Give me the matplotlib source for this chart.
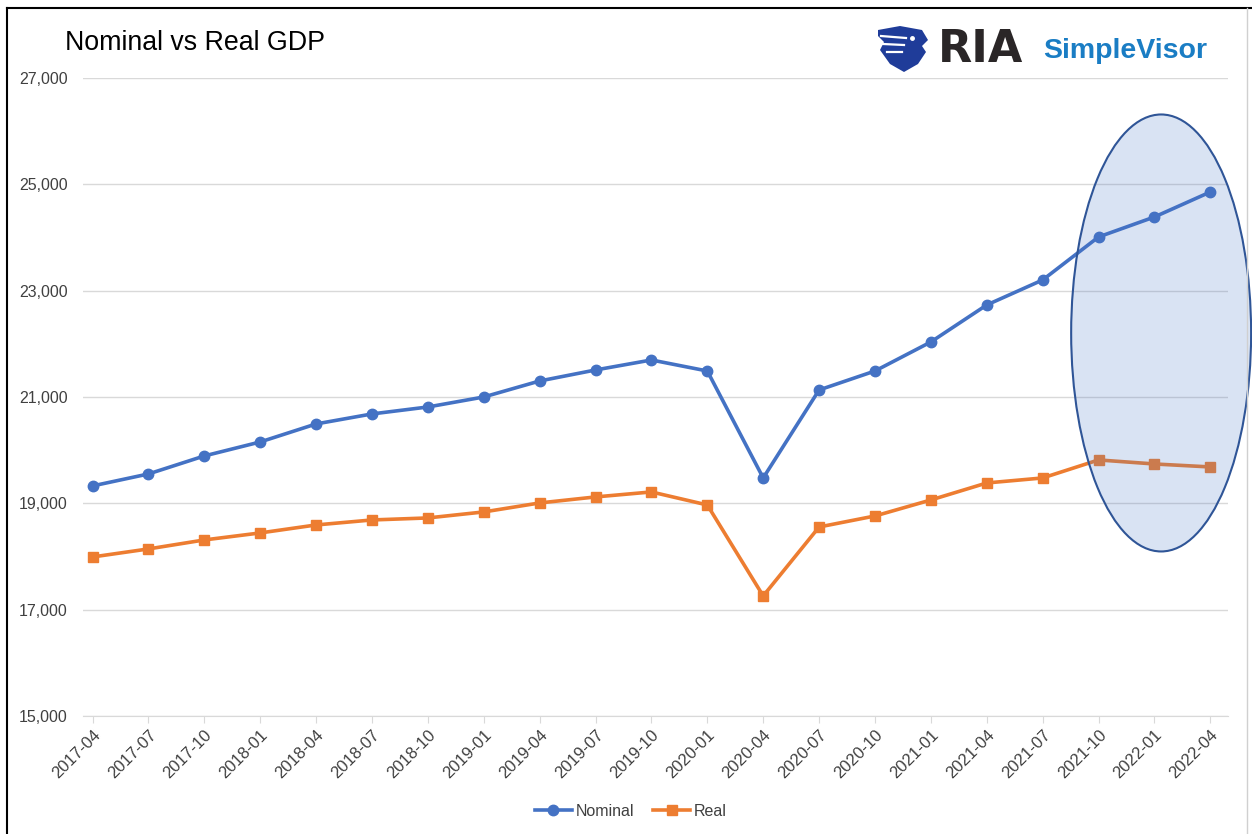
import matplotlib.pyplot as plt
from matplotlib.patches import Ellipse, Polygon
from matplotlib.lines import Line2D

quarters = ['2017-04', '2017-07', '2017-10', '2018-01', '2018-04', '2018-07',
            '2018-10', '2019-01', '2019-04', '2019-07', '2019-10', '2020-01',
            '2020-04', '2020-07', '2020-10', '2021-01', '2021-04', '2021-07',
            '2021-10', '2022-01', '2022-04']
nominal = [19327, 19552, 19891, 20154, 20493, 20681, 20812, 21000, 21301, 21508,
           21696, 21489, 19477, 21132, 21489, 22035, 22731, 23201, 24010, 24386,
           24856]
real = [17991, 18142, 18311, 18443, 18593, 18687, 18725, 18838, 19007, 19120,
        19214, 18969, 17258, 18555, 18762, 19063, 19383, 19477, 19816, 19740,
        19684]
yticks = [15000, 17000, 19000, 21000, 23000, 25000, 27000]

plt.rcParams['font.family'] = ['Liberation Sans', 'DejaVu Sans']

W, H = 1252, 834
fig = plt.figure(figsize=(W / 100, H / 100), dpi=100)
ax = fig.add_axes([0.0663, 0.1415, 0.9147, 0.765])

x = list(range(len(quarters)))
ax.plot(x, nominal, color='#4472C4', lw=2.6, marker='o', ms=7.5, label='Nominal', zorder=3)
ax.plot(x, real, color='#ED7D31', lw=2.6, marker='s', ms=7, label='Real', zorder=3)

ax.set_ylim(15000, 27000)
ax.set_xlim(-0.17, 20.32)
ax.set_yticks(yticks)
ax.set_yticklabels(['{:,}'.format(v) for v in yticks])
ax.set_xticks(x)
ax.set_xticklabels(quarters, rotation=45, ha='right', rotation_mode='anchor')
ax.grid(axis='y', color='#D9D9D9', lw=1)
ax.set_axisbelow(True)
for s in ['top', 'right', 'left']:
    ax.spines[s].set_visible(False)
ax.spines['bottom'].set_color('#D9D9D9')
ax.tick_params(axis='y', length=0, labelsize=11.5, labelcolor='#404040', pad=11)
ax.tick_params(axis='x', length=5, color='#D9D9D9', labelsize=12, labelcolor='#404040', pad=3)

# highlight ellipse
ell = Ellipse((19.12, 22204), 3.22, 8219, facecolor=(0.27, 0.45, 0.77, 0.2),
              edgecolor='#2F5597', lw=1.5, clip_on=False, zorder=4)
ax.add_patch(ell)

# title
fig.text(65 / W, 1 - 43 / H, 'Nominal vs Real GDP', fontsize=19.3, va='center', ha='left')

# logo: rough eagle shield
shield_px = [(878, 30), (900, 26), (922, 30), (928, 40), (922, 46), (926, 52),
             (918, 64), (904, 72), (890, 64), (880, 50), (884, 42), (878, 36)]
fig.patches.append(Polygon([(px, H - py) for px, py in shield_px], closed=True,
                           transform=None, facecolor='#1F3C99', edgecolor='none'))
for (x0, y0), (x1, y1) in [((881, 36), (906, 38)), ((883, 44), (904, 45)), ((887, 52), (902, 52))]:
    fig.add_artist(Line2D([x0 / W, x1 / W], [1 - y0 / H, 1 - y1 / H], color='white', lw=1.6))
fig.add_artist(Line2D([912 / W], [1 - 38 / H], marker='o', ms=2.5, color='white'))

fig.text(938 / W, 1 - 49 / H, 'RIA', fontsize=32, fontweight='bold', family='DejaVu Sans',
         color='#2A2627', va='center', ha='left')
fig.text(1043 / W, 1 - 51 / H, 'SimpleVisor', fontsize=20.5, fontweight='bold',
         color='#1A7DC4', va='center', ha='left')

# border
fig.add_artist(Line2D([7 / W, 7 / W], [0, 1 - 8 / H], color='black', lw=1.5))
fig.add_artist(Line2D([7 / W, 1], [1 - 8 / H, 1 - 8 / H], color='black', lw=1.5))
fig.add_artist(Line2D([1247 / W, 1247 / W], [0, 1 - 8 / H], color='#D0D0D0', lw=1))

fig.legend(loc='center', bbox_to_anchor=(0.504, 1 - 811 / H), ncol=2, frameon=False,
           fontsize=11.5, labelcolor='#404040', handlelength=2.3, handletextpad=0.25,
           columnspacing=1.2)

plt.savefig('out.png')
